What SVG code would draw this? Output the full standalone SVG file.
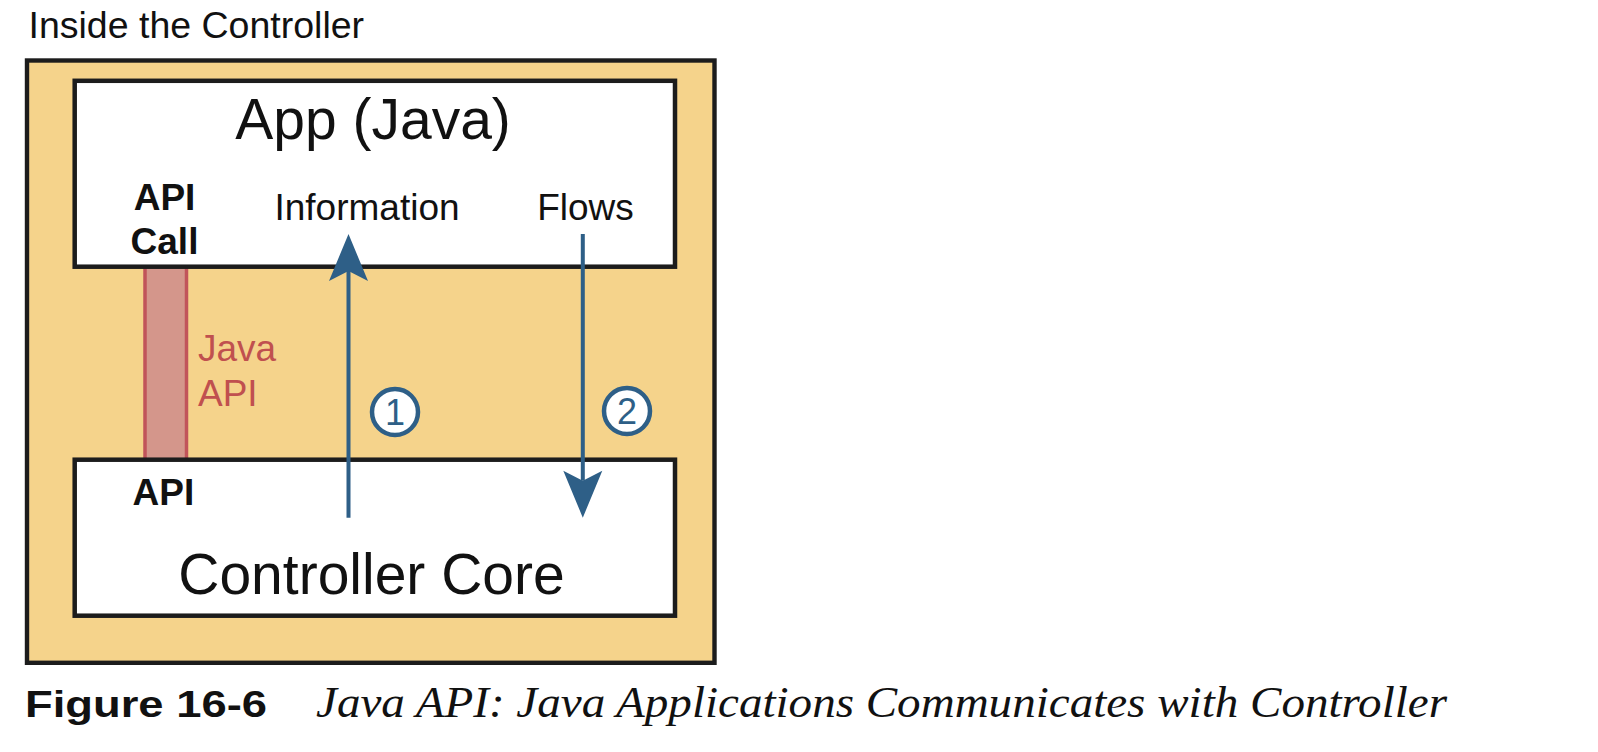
<svg xmlns="http://www.w3.org/2000/svg" width="1598" height="752" viewBox="0 0 1598 752">
<style>
.box{fill:#ffffff;stroke:#1c1c1c;stroke-width:4.5}
.sans{font-family:"Liberation Sans",Arial,sans-serif;fill:#111}
.big{font-size:57px}
.lbl{font-size:37px}
.bold{font-weight:bold}
.red{fill:#c0504f}
.flow{stroke:#2e5f87;stroke-width:4;fill:none}
.step{fill:#ffffff;stroke:#2e5f87;stroke-width:4.5}
.num{font-family:"Liberation Sans",Arial,sans-serif;font-size:36px;fill:#2e5f87}
</style>
<defs>
<marker id="head" markerUnits="userSpaceOnUse" viewBox="-12 -21 52 42" markerWidth="52" markerHeight="42" refX="0" refY="0" orient="auto">
<path d="M37,0 L-10,-19.5 L0,0 L-10,19.5 Z" fill="#2e5f87"/>
</marker>
</defs>
<rect width="1598" height="752" fill="#ffffff"/>
<text class="sans" x="28.5" y="38" font-size="37.5">Inside the Controller</text>
<g id="controller">
<rect x="27" y="60.5" width="687.5" height="602.3" fill="#f5d38b" stroke="#1c1c1c" stroke-width="4.4"/>
</g>
<g id="java-api">
<rect x="145" y="266" width="41.5" height="194" fill="#d4968b" stroke="#c1545a" stroke-width="3.5"/>
<text class="sans lbl red" x="198" y="361">Java</text>
<text class="sans lbl red" x="198" y="406">API</text>
</g>
<g id="app">
<rect class="box" x="74.7" y="80.8" width="600.3" height="185.9"/>
<text class="sans big" x="373" y="139" text-anchor="middle">App (Java)</text>
<text class="sans lbl bold" x="164.5" y="210" text-anchor="middle">API</text>
<text class="sans lbl bold" x="164.5" y="254" text-anchor="middle">Call</text>
<text class="sans lbl" x="367" y="220" text-anchor="middle">Information</text>
<text class="sans lbl" x="585.5" y="220" text-anchor="middle">Flows</text>
</g>
<g id="core">
<rect class="box" x="74.7" y="459.7" width="600.3" height="156"/>
<text class="sans lbl bold" x="132.5" y="505">API</text>
<text class="sans big" x="371.5" y="594" text-anchor="middle">Controller Core</text>
</g>
<g id="connectors">
<line class="flow" x1="348.5" y1="517.7" x2="348.5" y2="271" marker-end="url(#head)"/>
<line class="flow" x1="582.8" y1="234" x2="582.8" y2="480.7" marker-end="url(#head)"/>
</g>
<g id="step1">
<circle class="step" cx="395" cy="412" r="23"/>
<text class="num" x="395" y="425" text-anchor="middle">1</text>
</g>
<g id="step2">
<circle class="step" cx="627" cy="411" r="23"/>
<text class="num" x="627" y="424" text-anchor="middle">2</text>
</g>
<g id="caption">
<text class="sans bold" x="25" y="717" font-size="37" textLength="242" lengthAdjust="spacingAndGlyphs">Figure 16-6</text>
<text x="316" y="717" font-family="'Liberation Serif','Times New Roman',serif" font-style="italic" font-size="45" fill="#111" textLength="1131" lengthAdjust="spacingAndGlyphs">Java API: Java Applications Communicates with Controller</text>
</g>
</svg>
